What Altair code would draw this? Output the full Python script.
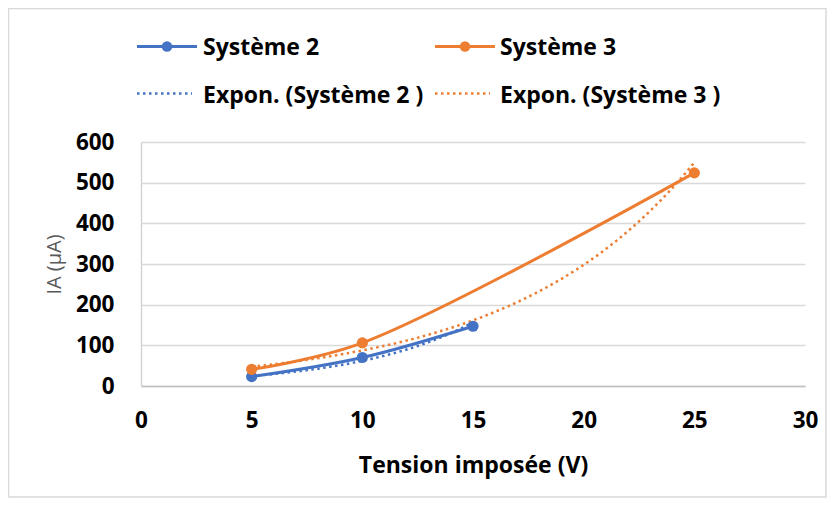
import altair as alt
import pandas as pd

# ---- data ----
series_names = ["Système 2", "Système 3"]
sys2_x = [5, 10, 15]
sys2_y = [23, 70, 147]
sys3_x = [5, 10, 25]
sys3_y = [41, 106, 524]
x_ticks = [0, 5, 10, 15, 20, 25, 30]
y_ticks = [0, 100, 200, 300, 400, 500, 600]
legend_labels = ["Système 2", "Système 3", "Expon. (Système 2 )", "Expon. (Système 3 )"]
colors = ["#4472C4", "#ED7D31"]

df = pd.DataFrame({
    "x": sys2_x + sys3_x,
    "y": sys2_y + sys3_y,
    "series": [series_names[0]] * len(sys2_x) + [series_names[1]] * len(sys3_x),
})

FONT = "Open Sans"
W, H = 664, 244
color_scale = alt.Scale(domain=series_names, range=colors)

xenc = alt.X("x:Q", scale=alt.Scale(domain=[0, 30], nice=False),
             axis=alt.Axis(values=x_ticks, grid=False, ticks=False, domain=True,
                           domainColor="#BFBFBF", domainWidth=1.5, labelFlush=False,
                           labelFontSize=22.5, labelFont=FONT, labelFontWeight="bold",
                           labelColor="#000000", labelPadding=23, labelBaseline="top",
                           title="Tension imposée (V)", titleFont=FONT, titleFontSize=23,
                           titleFontWeight="bold", titleColor="#000000",
                           titleBaseline="alphabetic", titleY=86))
yenc = alt.Y("y:Q", scale=alt.Scale(domain=[0, 600], nice=False),
             axis=alt.Axis(values=y_ticks, grid=True, gridColor="#D9D9D9", gridWidth=1.3,
                           ticks=False, domain=True, domainColor="#D0D0D0", domainWidth=1.3,
                           labelFlush=False,
                           labelFontSize=22.5, labelFont=FONT, labelFontWeight="bold",
                           labelColor="#000000", labelPadding=27,
                           title="IA (µA)", titleFont=FONT, titleFontSize=20,
                           titleFontWeight="normal", titleColor="#595959",
                           titleBaseline="alphabetic", titleX=-81, titleY=H / 2,
                           titleAngle=270))

base = alt.Chart(df)

lines = base.mark_line(strokeWidth=3, interpolate="catmull-rom").encode(
    x=xenc, y=yenc,
    color=alt.Color("series:N", scale=color_scale, legend=None),
    detail="series:N",
)
points = base.mark_point(filled=True, size=125, opacity=1).encode(
    x="x:Q", y="y:Q",
    color=alt.Color("series:N", scale=color_scale, legend=None),
)

# exponential trend line: least squares on ln(y) (Excel style), computed by Vega transforms
trend = base.transform_calculate(
    ly="log(datum.y)"
).transform_joinaggregate(
    mx="mean(x)", mly="mean(ly)", xmin="min(x)", xmax="max(x)", groupby=["series"]
).transform_calculate(
    sxy="(datum.x - datum.mx) * (datum.ly - datum.mly)",
    sxx="(datum.x - datum.mx) * (datum.x - datum.mx)",
).transform_joinaggregate(
    Sxy="sum(sxy)", Sxx="sum(sxx)", groupby=["series"]
).transform_calculate(
    b="datum.Sxy / datum.Sxx"
).transform_calculate(
    a="datum.mly - datum.b * datum.mx"
).transform_filter(
    "datum.x == datum.xmin"
).transform_calculate(
    t="sequence(0, 1.0001, 0.02)"
).transform_flatten(
    ["t"]
).transform_calculate(
    xf="datum.xmin + datum.t * (datum.xmax - datum.xmin)"
).transform_calculate(
    yf="exp(datum.a + datum.b * datum.xf)"
).mark_line(strokeWidth=2.5, strokeDash=[2.5, 3.5]).encode(
    x="xf:Q", y="yf:Q",
    color=alt.Color("series:N", scale=color_scale, legend=None),
    detail="series:N",
)

# ---- hand-built legend (2 x 2) ----
one = alt.Data(values=[{"k": 1}])
leg_layers = []
col_x = [-4, 294]          # start of symbol for each column (plot coords)
row_sym_y = [-95.5, -48.5]
row_txt_y = [-87.5, -39.5]
text_x = [62, 359]
for i in range(2):
    c = colors[i]
    x0 = col_x[i]
    leg_layers.append(alt.Chart(one).mark_rule(color=c, strokeWidth=3).encode(
        x=alt.value(x0), x2=alt.value(x0 + 60), y=alt.value(row_sym_y[0])))
    leg_layers.append(alt.Chart(one).mark_point(filled=True, size=110, opacity=1, color=c).encode(
        x=alt.value(x0 + 30), y=alt.value(row_sym_y[0])))
    leg_layers.append(alt.Chart(one).mark_rule(color=c, strokeWidth=2.5, strokeDash=[2.5, 3.5]).encode(
        x=alt.value(x0), x2=alt.value(x0 + 55), y=alt.value(row_sym_y[1])))
    leg_layers.append(alt.Chart(one).mark_text(
        align="left", baseline="alphabetic", font=FONT, fontSize=23, fontWeight="bold",
        color="#000000").encode(
        x=alt.value(text_x[i]), y=alt.value(row_txt_y[0]), text=alt.value(legend_labels[i])))
    leg_layers.append(alt.Chart(one).mark_text(
        align="left", baseline="alphabetic", font=FONT, fontSize=23, fontWeight="bold",
        color="#000000").encode(
        x=alt.value(text_x[i]), y=alt.value(row_txt_y[1]), text=alt.value(legend_labels[2 + i])))

border = alt.Chart(one).mark_rect(fill=None, stroke="#D9D9D9", strokeWidth=1.5).encode(
    x=alt.value(-132.5), x2=alt.value(685), y=alt.value(-133.5), y2=alt.value(355))

chart = alt.layer(border, lines, trend, points, *leg_layers).properties(
    width=W, height=H,
    autosize=alt.AutoSizeParams(type="none"),
    padding={"left": 133, "top": 134, "right": 23, "bottom": 112},
    background="white",
).configure_view(stroke=None)

chart.save("out.html", embed_options={"renderer": "svg", "actions": False})
